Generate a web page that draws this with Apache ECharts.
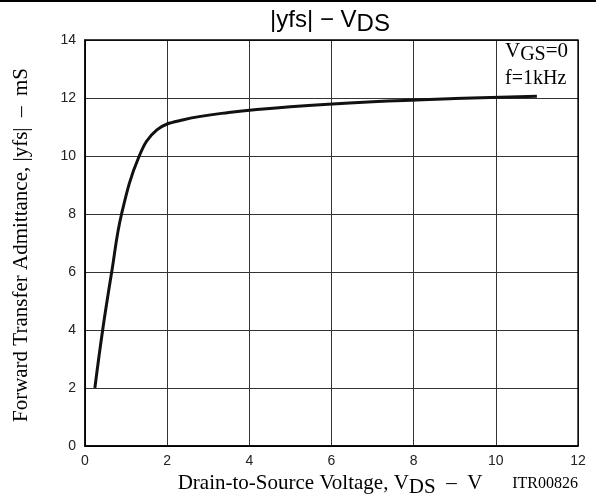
<!DOCTYPE html>
<html><head><meta charset="utf-8">
<script src="https://cdn.jsdelivr.net/npm/echarts@6/dist/echarts.min.js"></script>
<style>html,body{margin:0;padding:0;background:#fff}#c{width:596px;height:499px}</style>
</head><body><div id="c"></div>
<script>
const vds = [0.24, 0.43, 0.65, 0.89, 1.32, 1.75, 2.4, 3.5, 5, 7, 9, 11];
const yfs = [2, 4, 6, 8, 10, 10.9, 11.25, 11.5, 11.7, 11.87, 11.98, 12.06];
const xTicks = [0, 2, 4, 6, 8, 10, 12];
const yTicks = [0, 2, 4, 6, 8, 10, 12, 14];

const chart = echarts.init(document.getElementById('c'), null, {renderer: 'canvas'});
const serif = '"Liberation Serif","Times New Roman",serif';
const sans = '"Liberation Sans",Arial,sans-serif';
chart.setOption({
  animation: false,
  backgroundColor: '#fff',
  grid: {left: 85, right: 18, top: 40, bottom: 53, containLabel: false},
  xAxis: {
    type: 'value', min: 0, max: 12, interval: 2,
    axisLine: {show: true, lineStyle: {color: '#000', width: 1.5}},
    axisTick: {show: false},
    splitLine: {show: true, lineStyle: {color: '#333', width: 1}},
    axisLabel: {color: '#222', fontFamily: sans, fontSize: 14, margin: 8,
      formatter: v => xTicks.includes(v) ? String(v) : ''}
  },
  yAxis: {
    type: 'value', min: 0, max: 14, interval: 2,
    axisLine: {show: true, lineStyle: {color: '#000', width: 1.5}},
    axisTick: {show: false},
    splitLine: {show: true, lineStyle: {color: '#333', width: 1}},
    axisLabel: {color: '#222', fontFamily: sans, fontSize: 14, margin: 9,
      formatter: v => yTicks.includes(v) ? String(v) : ''}
  },
  series: [{
    type: 'line', data: vds.map((x, i) => [x, yfs[i]]),
    smooth: 0.4, showSymbol: false,
    lineStyle: {color: '#111', width: 3}
  }],
  graphic: [
    {type: 'rect', shape: {x: 0, y: 0, width: 596, height: 2}, style: {fill: '#000'}},
    {type: 'rect', shape: {x: 85, y: 40, width: 493, height: 406}, style: {fill: 'none', stroke: '#000', lineWidth: 1.3}, silent: true, z: 10},
    {type: 'text', x: 330, y: 32, style: {
      text: '{a||yfs| − V}{s|DS}', align: 'center', verticalAlign: 'bottom',
      rich: {a: {fontFamily: sans, fontSize: 24, fill: '#000'}, s: {fontFamily: sans, fontSize: 24, fill: '#000', padding: [0, 0, -8, 0]}}
    }},
    {type: 'text', x: 330, y: 494, style: {
      text: '{a|Drain-to-Source Voltage, V}{s|DS}{a|  –  V}', align: 'center', verticalAlign: 'bottom',
      rich: {a: {fontFamily: serif, fontSize: 21, fill: '#000'}, s: {fontFamily: serif, fontSize: 21, fill: '#000', padding: [0, 0, -7, 0]}}
    }},
    {type: 'text', x: 578, y: 492, style: {text: 'ITR00826', fontFamily: serif, fontSize: 16, fill: '#000', align: 'right', verticalAlign: 'bottom'}},
    {type: 'text', x: 21, y: 245, rotation: Math.PI / 2, style: {
      text: 'Forward Transfer Admittance, |yfs|  –  mS', fontFamily: serif, fontSize: 21, fill: '#000', align: 'center', verticalAlign: 'middle'
    }},
    {type: 'text', x: 505, y: 62, z: 20, style: {
      text: '{a|V}{s|GS}{a|=0}', verticalAlign: 'bottom',
      rich: {a: {fontFamily: serif, fontSize: 21, fill: '#000'}, s: {fontFamily: serif, fontSize: 20, fill: '#000', padding: [0, 0, -6, 0]}}
    }},
    {type: 'text', x: 505, y: 89, z: 20, style: {text: 'f=1kHz', fontFamily: serif, fontSize: 20, fill: '#000', verticalAlign: 'bottom'}}
  ]
});
</script></body></html>
